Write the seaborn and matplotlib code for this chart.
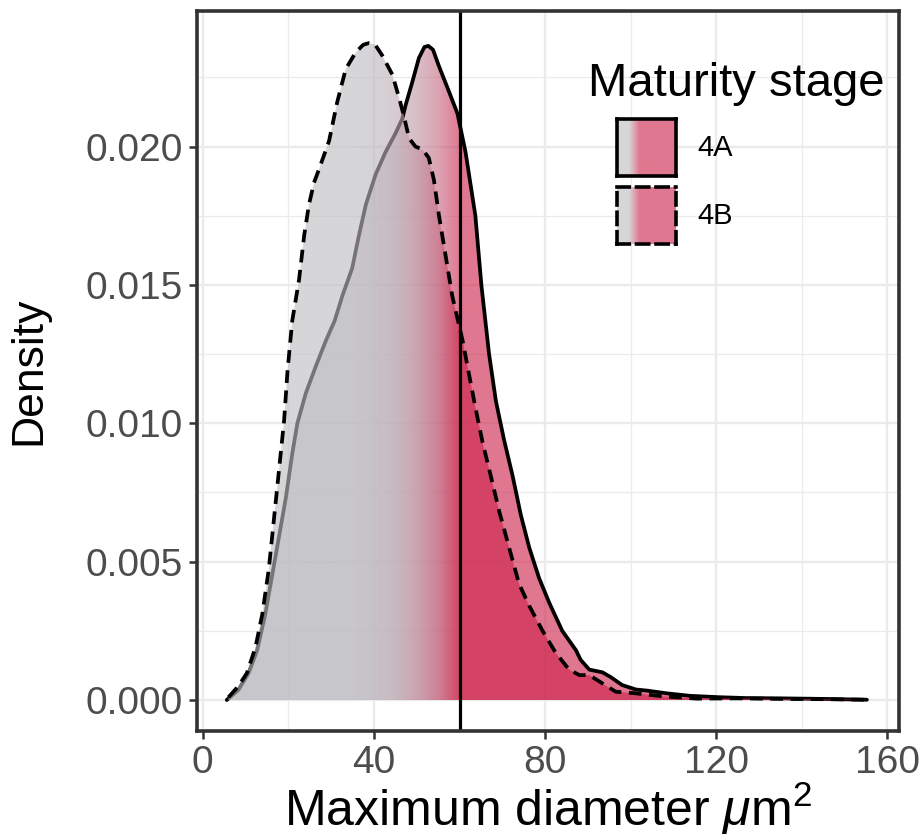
import numpy as np
import pandas as pd
import matplotlib
matplotlib.use("Agg")
import matplotlib.pyplot as plt
import seaborn as sns
from matplotlib.colors import LinearSegmentedColormap, Normalize
from matplotlib.ticker import MultipleLocator

# ---- density curves of maximum diameter, per maturity stage ----
stages = ["4A", "4B"]

diam_4a = [5.6, 8.3, 10.7, 12.7, 14.6, 16.2, 17.8, 19.4, 20.9, 22.1, 24.1, 26.5,
           28.8, 30.8, 32.6, 34.9, 36.5, 38.1, 40.4, 42.7, 45.1, 46.6, 47.4, 48.9,
           50.5, 51.8, 52.7, 53.8, 55.2, 57.5, 59.5, 61.4, 63.7, 65.1, 66.9, 68.5,
           70.4, 72.4, 74.3, 76.3, 78.6, 81.0, 84.0, 87.2, 88.3, 90.3, 93.4, 95.3,
           98.0, 101.2, 103.8, 108.5, 113.9, 120.9, 127.0, 135.0, 145.0, 155.2]
dens_4a = [0.0, 0.00036, 0.00097, 0.0018, 0.0031, 0.0045, 0.0059, 0.0073, 0.0089,
           0.0100, 0.0111, 0.0121, 0.0130, 0.0137, 0.0146, 0.0156, 0.0168, 0.0179,
           0.0190, 0.0198, 0.0205, 0.0210, 0.0215, 0.0223, 0.0232, 0.0236, 0.02364,
           0.0235, 0.0229, 0.0220, 0.0212, 0.0198, 0.0175, 0.0150, 0.0125, 0.0108,
           0.0094, 0.0081, 0.0067, 0.0055, 0.0044, 0.0035, 0.0025, 0.0018, 0.00145,
           0.0011, 0.0010, 0.00083, 0.00054, 0.00038, 0.00034, 0.00024, 0.00015,
           0.0001, 0.00007, 0.00006, 0.00004, 0.00001]

diam_4b = [6.0, 8.3, 10.3, 12.3, 13.9, 15.4, 16.6, 17.8, 19.0, 19.8, 20.9, 22.5,
           23.7, 24.8, 26.0, 27.2, 29.5, 31.4, 33.4, 35.7, 37.5, 38.8, 40.2, 41.9,
           44.3, 45.8, 47.0, 48.2, 49.7, 51.3, 52.8, 54.0, 55.2, 56.7, 58.3, 59.5,
           60.7, 62.3, 63.8, 65.4, 67.3, 69.3, 71.6, 73.9, 76.3, 79.4, 82.5, 85.6,
           88.0, 90.3, 93.4, 96.5, 100.6, 107.7, 115.5, 125.0, 135.0, 145.0, 155.0]
dens_4b = [0.0001, 0.0005, 0.00097, 0.0019, 0.0031, 0.0047, 0.0065, 0.0083, 0.0101,
           0.0119, 0.0137, 0.0152, 0.0168, 0.0179, 0.0187, 0.0192, 0.0202, 0.0216,
           0.0228, 0.0234, 0.02368, 0.02374, 0.0237, 0.0233, 0.0226, 0.0218, 0.0211,
           0.0203, 0.0200, 0.0199, 0.0196, 0.0188, 0.0175, 0.0161, 0.0146, 0.0138,
           0.0130, 0.0117, 0.0105, 0.0093, 0.0081, 0.0068, 0.0055, 0.0042, 0.0034,
           0.0025, 0.0017, 0.0011, 0.0009, 0.0009, 0.0006, 0.0003, 0.00025, 0.00013,
           0.00005, 0.00006, 0.00004, 0.00003, 0.00001]

threshold = 60
x_ticks = [0, 40, 80, 120, 160]
y_ticks = [0.000, 0.005, 0.010, 0.015, 0.020]

# ---- styling ----
GREY = np.array([190, 190, 195]) / 255
RED = np.array([206, 36, 76]) / 255
FILL_ALPHA = 0.62
LW = 2.7
DASH = (0, (3.4, 2.0))


def mix(t):
    return tuple(GREY * (1 - t) + RED * t)


# grey -> red ramp that accelerates towards the threshold
ramp = LinearSegmentedColormap.from_list(
    "grey_red",
    [(0.0, mix(0.0)), (0.2, mix(0.03)), (0.4, mix(0.1)), (0.6, mix(0.25)),
     (0.8, mix(0.52)), (0.92, mix(0.8)), (1.0, mix(1.0))],
)
ramp_norm = Normalize(34, 60)

sns.set_theme(style="white")
plt.rcParams["font.family"] = ["Liberation Sans", "DejaVu Sans"]
plt.rcParams["mathtext.fontset"] = "custom"
plt.rcParams["mathtext.rm"] = "Liberation Sans"
plt.rcParams["mathtext.it"] = "Liberation Sans:italic"

W, H = 922, 836
fig = plt.figure(figsize=(W / 100, H / 100), dpi=100)
fig.patch.set_facecolor("white")
ax = fig.add_axes([196.6 / W, 1 - 731 / H, (899 - 196.6) / W, (731 - 11) / H])

XLIM = (-1.45, 162.7)
YLIM = (-0.00112, 0.0249)

df = pd.DataFrame({
    "diameter": diam_4a + diam_4b,
    "density": dens_4a + dens_4b,
    "stage": ["4A"] * len(diam_4a) + ["4B"] * len(diam_4b),
})

grad = np.linspace(XLIM[0], XLIM[1], 800)[None, :]


def gradient_area(xs, ys, z):
    poly = ax.fill_between(xs, 0, ys, facecolor="none", edgecolor="none", zorder=z)
    im = ax.imshow(grad, extent=(XLIM[0], XLIM[1], 0, max(ys) * 1.01), origin="lower",
                   aspect="auto", cmap=ramp, norm=ramp_norm, alpha=FILL_ALPHA,
                   interpolation="bilinear", zorder=z)
    im.set_clip_path(poly.get_paths()[0], transform=ax.transData)


for i, stage in enumerate(stages):
    sub = df[df["stage"] == stage]
    gradient_area(sub["diameter"].values, sub["density"].values, 2 + 2 * i)
    n_before = len(ax.lines)
    sns.lineplot(data=sub, x="diameter", y="density", color="black", linewidth=LW,
                 estimator=None, sort=False, ax=ax, zorder=3 + 2 * i)
    line = ax.lines[n_before]
    line.set_solid_joinstyle("round")
    line.set_solid_capstyle("round")
    if stage == "4B":
        line.set_linestyle(DASH)
        line.set_dash_capstyle("butt")

ax.axvline(threshold, color="black", linewidth=2.3, zorder=7)

ax.set_xlim(*XLIM)
ax.set_ylim(*YLIM)
ax.set_xticks(x_ticks)
ax.set_yticks(y_ticks)
ax.set_xticklabels([str(v) for v in x_ticks])
ax.set_yticklabels([f"{v:.3f}" for v in y_ticks])
ax.xaxis.set_minor_locator(MultipleLocator(20))
ax.yaxis.set_minor_locator(MultipleLocator(0.0025))

ax.set_axisbelow(True)
ax.grid(which="major", color="#EBEBEB", linewidth=1.7, zorder=0)
ax.grid(which="minor", color="#EBEBEB", linewidth=0.9, zorder=0)

for sp in ax.spines.values():
    sp.set_color("#333333")
    sp.set_linewidth(2.6)
    sp.set_zorder(10)

ax.tick_params(which="major", direction="out", length=6, width=1.8, color="#333333",
               labelsize=28, labelcolor="#4D4D4D", pad=4,
               bottom=True, left=True, top=False, right=False)
ax.tick_params(which="minor", length=0)

ax.set_xlabel(r"Maximum diameter $\mu$m$^2$", fontsize=36, color="black", labelpad=-1)
ax.set_ylabel("Density", fontsize=32, color="black", labelpad=26)

# ---- legend ----
fig.text(588 / W, 1 - 96 / H, "Maturity stage", fontsize=34, color="black",
         ha="left", va="baseline")

key_grad = np.linspace(0, 1, 200)[None, :]
key_cmap = LinearSegmentedColormap.from_list(
    "key", [(0.0, mix(0.0)), (0.2, mix(0.0)), (0.29, mix(0.5)), (0.38, mix(1.0)), (1.0, mix(1.0))]
)
key_boxes = {"4A": (119.3, 176.0), "4B": (187.3, 244.0)}
for stage in stages:
    top, bot = key_boxes[stage]
    kax = fig.add_axes([617.3 / W, 1 - bot / H, (675.7 - 617.3) / W, (bot - top) / H])
    kax.imshow(key_grad, cmap=key_cmap, aspect="auto", alpha=FILL_ALPHA,
               extent=(0, 1, 0, 1), interpolation="bilinear")
    kax.set_xlim(0, 1)
    kax.set_ylim(0, 1)
    kax.set_xticks([])
    kax.set_yticks([])
    for sp in kax.spines.values():
        sp.set_color("black")
        sp.set_linewidth(2.6)
        if stage == "4B":
            sp.set_linestyle(DASH)
    fig.text(697 / W, 1 - (top + bot) / 2 / H, stage, fontsize=21, color="black",
             ha="left", va="center")

fig.savefig("out.png", dpi=100, facecolor="white")
